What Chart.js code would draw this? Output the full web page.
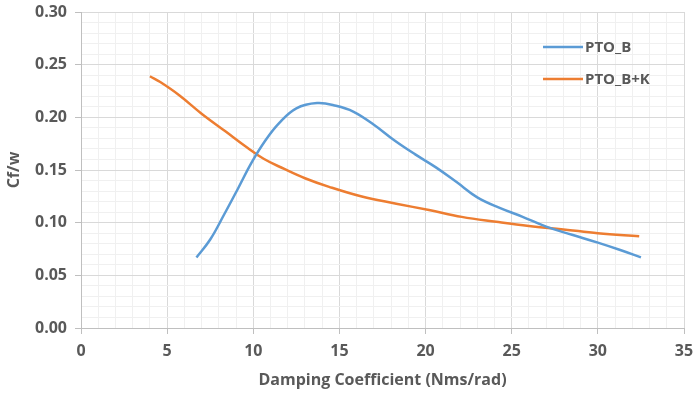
<!DOCTYPE html>
<html>
<head>
<meta charset="utf-8">
<script src="https://cdn.jsdelivr.net/npm/chart.js@4/dist/chart.umd.min.js"></script>
<style>
  html, body { margin: 0; padding: 0; background: #fff; }
  #wrap { width: 695px; height: 394px; position: relative; }
</style>
</head>
<body>
<div id="wrap"><canvas id="myChart"></canvas></div>
<script>
const seriesNames = ['PTO_B', 'PTO_B+K'];
const seriesColors = ['#5B9BD5', '#ED7D31'];

const ptoBX = [6.7, 7.5, 8.3, 9.1, 9.9, 10.7, 11.5, 12.5, 13.7, 14.8, 15.8, 17.0, 18.2, 19.4, 20.6, 21.8, 23.0, 24.3, 25.6, 27.0, 28.5, 30.0, 31.3, 32.5];
const ptoBY = [0.067, 0.084, 0.1075, 0.132, 0.157, 0.178, 0.1945, 0.2085, 0.2135, 0.211, 0.2055, 0.193, 0.178, 0.1648, 0.1525, 0.1385, 0.124, 0.114, 0.1058, 0.0962, 0.0885, 0.081, 0.074, 0.067];

const ptoBKX = [4.0, 4.6, 5.7, 7.0, 8.4, 9.5, 10.6, 11.8, 13.0, 14.4, 16.3, 18.3, 20.2, 22.1, 24.1, 26.0, 28.0, 30.0, 32.4];
const ptoBKY = [0.239, 0.2335, 0.221, 0.2035, 0.1865, 0.173, 0.1607, 0.151, 0.1422, 0.134, 0.1248, 0.118, 0.112, 0.1055, 0.1008, 0.0968, 0.0936, 0.090, 0.087];

const xTickLabels = ['0', '5', '10', '15', '20', '25', '30', '35'];
const yTickLabels = ['0.00', '0.05', '0.10', '0.15', '0.20', '0.25', '0.30'];

const xMajorStep = 5, xMinorStep = 1;
const yMajorStep = 0.05, yMinorStep = 0.01;

function pts(xs, ys) { return xs.map((x, i) => ({ x: x, y: ys[i] })); }

function isMajor(v, step) {
  const r = v / step;
  return Math.abs(r - Math.round(r)) < 1e-6;
}

function minorValues(max, step) {
  const out = [];
  const n = Math.round(max / step);
  for (let i = 0; i <= n; i++) out.push(+(i * step).toFixed(4));
  return out;
}

const tickFont = { family: 'Open Sans', size: 16, weight: 'bold' };
const textColor = '#595959';

const legendInside = {
  id: 'legendInside',
  afterDraw(chart) {
    const c = chart.ctx;
    c.save();
    c.font = 'bold 15px "Open Sans"';
    c.textBaseline = 'middle';
    c.textAlign = 'left';
    chart.data.datasets.forEach((ds, i) => {
      const y = 47 + i * 32;
      c.strokeStyle = ds.borderColor;
      c.lineWidth = 2.5;
      c.beginPath();
      c.moveTo(543, y);
      c.lineTo(583, y);
      c.stroke();
      c.fillStyle = textColor;
      c.fillText(ds.label, 585, y + 1);
    });
    c.restore();
  }
};

new Chart(document.getElementById('myChart'), {
  type: 'line',
  data: {
    datasets: [
      {
        label: seriesNames[0],
        data: pts(ptoBX, ptoBY),
        borderColor: seriesColors[0],
        backgroundColor: seriesColors[0],
        borderWidth: 2.5,
        pointRadius: 0,
        tension: 0.4
      },
      {
        label: seriesNames[1],
        data: pts(ptoBKX, ptoBKY),
        borderColor: seriesColors[1],
        backgroundColor: seriesColors[1],
        borderWidth: 2.5,
        pointRadius: 0,
        tension: 0.4
      }
    ]
  },
  options: {
    responsive: true,
    maintainAspectRatio: false,
    animation: false,
    layout: { padding: { left: 0, top: 12, right: 11, bottom: 0 } },
    plugins: {
      legend: { display: false },
      tooltip: { enabled: false }
    },
    scales: {
      x: {
        type: 'linear',
        min: 0,
        max: 35,
        afterBuildTicks: (s) => { s.ticks = minorValues(35, xMinorStep).map(v => ({ value: v })); },
        afterFit: (s) => { s.height = 66; s.paddingLeft = 0; s.paddingRight = 0; },
        ticks: {
          autoSkip: false,
          maxRotation: 0,
          padding: 8,
          color: textColor,
          font: tickFont,
          callback: (v) => isMajor(v, xMajorStep) ? xTickLabels[Math.round(v / xMajorStep)] : ''
        },
        grid: {
          color: (ctx) => isMajor(ctx.tick.value, xMajorStep) ? '#d9d9d9' : '#f0f0f0',
          tickColor: (ctx) => isMajor(ctx.tick.value, xMajorStep) ? '#bfbfbf' : 'rgba(0,0,0,0)',
          tickLength: 6,
          lineWidth: 1
        },
        border: { color: '#bfbfbf', width: 1 },
        title: {
          display: true,
          text: 'Damping Coefficient (Nms/rad)',
          color: textColor,
          font: tickFont,
          padding: { top: 0, bottom: 4 }
        }
      },
      y: {
        type: 'linear',
        min: 0,
        max: 0.3,
        afterBuildTicks: (s) => { s.ticks = minorValues(0.3, yMinorStep).map(v => ({ value: v })); },
        afterFit: (s) => { s.width = 81; s.paddingTop = 0; s.paddingBottom = 0; },
        ticks: {
          autoSkip: false,
          padding: 8,
          color: textColor,
          font: tickFont,
          callback: (v) => isMajor(v, yMajorStep) ? yTickLabels[Math.round(v / yMajorStep)] : ''
        },
        grid: {
          color: (ctx) => isMajor(ctx.tick.value, yMajorStep) ? '#d9d9d9' : '#f0f0f0',
          tickColor: (ctx) => isMajor(ctx.tick.value, yMajorStep) ? '#bfbfbf' : 'rgba(0,0,0,0)',
          tickLength: 6,
          lineWidth: 1
        },
        border: { color: '#bfbfbf', width: 1 },
        title: {
          display: true,
          text: 'Cf/w',
          color: textColor,
          font: tickFont,
          padding: { top: 5, bottom: 0 }
        }
      }
    }
  },
  plugins: [legendInside]
});
</script>
</body>
</html>
